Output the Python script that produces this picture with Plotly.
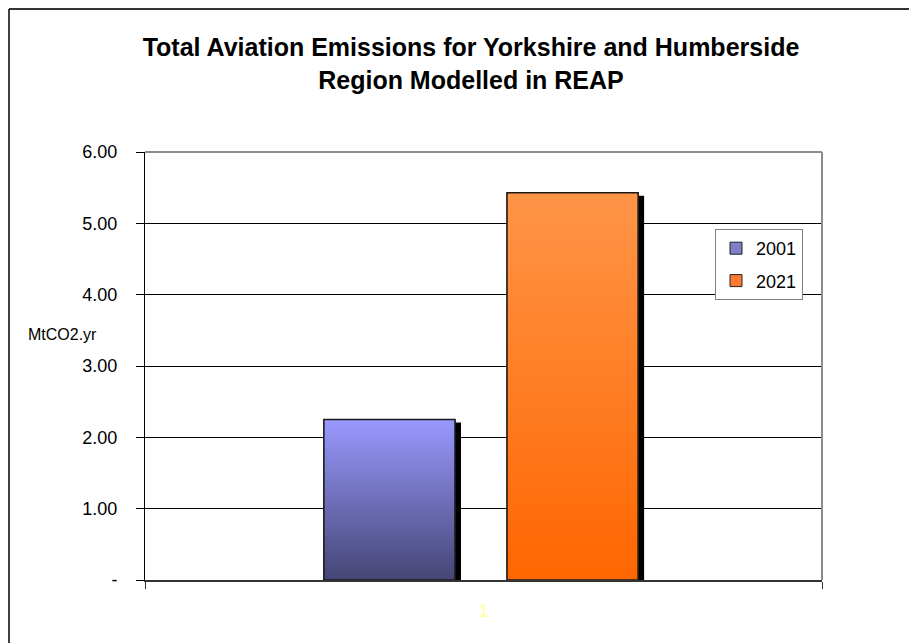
import plotly.graph_objects as go

# ---------------- data ----------------
categories = ["1"]
series_names = ["2001", "2021"]
series_values = [2.25, 5.43]
ytick_vals = [0, 1, 2, 3, 4, 5, 6]
ytick_text = ["-", "1.00", "2.00", "3.00", "4.00", "5.00", "6.00"]

# ---------------- style ----------------
FONT = "Arial, Liberation Sans, sans-serif"
W, H = 917, 643
OFF = 8  # page body margin: reference pixel r -> figure pixel r - OFF
PL, PR, PT, PB = 145 - OFF, 822 - OFF, 152 - OFF, 580 - OFF
ML, MR, MT, MB = PL, W - PR, PT, H - PB
PW, PH = PR - PL, PB - PT
YMAX = 6


def px(xr):
    return (xr - OFF - PL) / PW


def py(yr):
    return (PB - (yr - OFF)) / PH


grad_bottom = ["#454575", "#ff6600"]
grad_top = ["#9999ff", "#ff9548"]
swatch = ["#8080c8", "#ff7a30"]

BARGAP = 0.459
GROUPGAP = 0.284
CENTER = -2.5 / PW
group_w = 1 - BARGAP
slot = group_w / len(series_names)
bar_w = slot * (1 - GROUPGAP)
offsets = [CENTER - group_w / 2 + i * slot + slot * GROUPGAP / 2
           for i in range(len(series_names))]

SH_DX = 6 / PW          # shadow offset, px -> x units
SH_DY = 3 * YMAX / PH   # shadow offset, px -> y units

fig = go.Figure()

# shadows
for i, (name, v) in enumerate(zip(series_names, series_values)):
    fig.add_trace(go.Bar(
        x=[0], y=[v - SH_DY], offset=offsets[i] + SH_DX, width=bar_w,
        marker=dict(color="black", line=dict(width=0)),
        showlegend=False, hoverinfo="skip"))

# legend-carrying bars (covered by gradient fills)
for i, (name, v) in enumerate(zip(series_names, series_values)):
    fig.add_trace(go.Bar(
        x=[0], y=[v], offset=offsets[i], width=bar_w, name=name,
        legendgroup=name,
        marker=dict(color=swatch[i], line=dict(color="#222222", width=1))))

# gradient bodies
for i, (name, v) in enumerate(zip(series_names, series_values)):
    x0 = offsets[i]
    x1 = offsets[i] + bar_w
    fig.add_trace(go.Scatter(
        x=[x0, x0, x1, x1, x0], y=[0, v, v, 0, 0],
        mode="lines", fill="toself",
        fillgradient=dict(type="vertical",
                          colorscale=[[0, grad_bottom[i]], [1, grad_top[i]]]),
        line=dict(color="#1a1a1a", width=1.5),
        showlegend=False, hoverinfo="skip", name=name))

fig.update_layout(
    width=W, height=H,
    margin=dict(l=ML, r=MR, t=MT, b=MB),
    paper_bgcolor="white", plot_bgcolor="white",
    barmode="overlay",
    font=dict(family=FONT, color="black", size=18),
    title=dict(
        text="Total Aviation Emissions for Yorkshire and Humberside<br>Region Modelled in REAP",
        font=dict(family=FONT, size=25, color="black", weight="bold"),
        x=(471 - OFF) / W, xanchor="center", xref="container",
        y=1 - 48 / H, yanchor="top", yref="container"),
    xaxis=dict(
        range=[-0.5, 0.5], tickvals=[0], ticktext=categories,
        showgrid=False, zeroline=False, fixedrange=True,
        showline=True, linecolor="#333333", linewidth=1.5,
        ticks="", ticklabelstandoff=14,
        tickfont=dict(family=FONT, size=18, color="#ffff99"),
        minor=dict(tickvals=[-0.5, 0.5], ticks="outside", ticklen=7,
                   tickcolor="#333333", tickwidth=1, showgrid=False)),
    yaxis=dict(
        range=[0, YMAX], tickvals=ytick_vals, ticktext=ytick_text,
        showgrid=True, gridcolor="black", gridwidth=1,
        zeroline=False, showline=True, linecolor="black", linewidth=1,
        ticks="outside", ticklen=8, tickcolor="black",
        ticklabelstandoff=15,
        tickfont=dict(family=FONT, size=18, color="black")),
    legend=dict(
        x=px(715), xanchor="left",
        y=py(229), yanchor="top",
        bordercolor="#808080", borderwidth=1, bgcolor="white",
        font=dict(family=FONT, size=18, color="black"),
        tracegroupgap=6, traceorder="grouped"),
    annotations=[dict(
        text="MtCO2.yr", showarrow=False,
        xref="paper", yref="paper",
        x=px(62), y=py(334),
        xanchor="center", yanchor="middle",
        font=dict(family=FONT, size=16, color="black"))],
    shapes=[
        # plot-area border (top and right)
        dict(type="line", xref="paper", yref="paper", x0=0, x1=1, y0=1, y1=1,
             line=dict(color="#8c8c8c", width=2), layer="above"),
        dict(type="line", xref="paper", yref="paper", x0=1, x1=1, y0=0, y1=1,
             line=dict(color="#8c8c8c", width=2), layer="above"),
        # outer chart border
        dict(type="line", xref="paper", yref="paper",
             x0=px(9), x1=px(W + 20), y0=py(9), y1=py(9),
             line=dict(color="#333333", width=2)),
        dict(type="line", xref="paper", yref="paper",
             x0=px(9), x1=px(9), y0=py(9), y1=py(H + 20),
             line=dict(color="black", width=1.5)),
    ],
)

fig.write_html("out.html")
